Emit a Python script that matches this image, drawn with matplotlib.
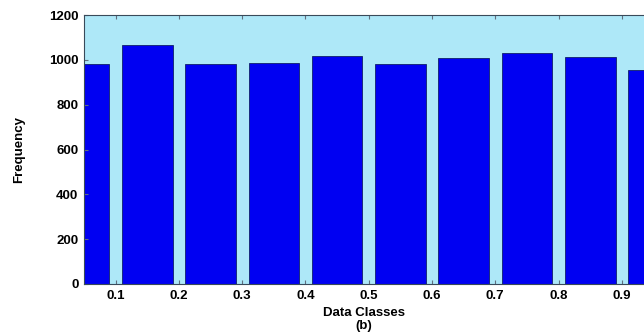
import matplotlib
matplotlib.use("Agg")
import matplotlib.pyplot as plt

centers = [0.05, 0.15, 0.25, 0.35, 0.45, 0.55, 0.65, 0.75, 0.85, 0.95]
freqs = [980, 1065, 982, 987, 1018, 983, 1007, 1029, 1013, 955]
xticks = [0.1, 0.2, 0.3, 0.4, 0.5, 0.6, 0.7, 0.8, 0.9]
xticklabels = ["0.1", "0.2", "0.3", "0.4", "0.5", "0.6", "0.7", "0.8", "0.9"]
yticks = [0, 200, 400, 600, 800, 1000, 1200]

plt.rcParams['font.family'] = ['Liberation Sans', 'DejaVu Sans']
fig = plt.figure(figsize=(6.44, 3.35), dpi=100)
ax = fig.add_axes([84/644, 51/335, 1 - 84/644, (284-15)/335])
ax.set_facecolor('#aee8f8')
ax.bar(centers, freqs, width=0.08, color='#0000f2', edgecolor='#10206a', linewidth=0.6)
ax.set_xlim(0.05, 0.935)
ax.set_ylim(0, 1200)
ax.set_xticks(xticks)
ax.set_xticklabels(xticklabels, fontsize=9.5, fontweight='bold')
ax.set_yticks(yticks)
ax.set_yticklabels([str(v) for v in yticks], fontsize=9.5, fontweight='bold')
ax.tick_params(direction='in', length=3, color='#607080', top=True, right=False, pad=4)
for s in ax.spines.values():
    s.set_color('#3a4a5a')
    s.set_linewidth(0.8)
ax.spines['right'].set_visible(False)
ax.set_xlabel("Data Classes\n(b)", fontsize=9.5, fontweight='bold', labelpad=4, linespacing=1.05)
ax.set_ylabel("Frequency", fontsize=9.5, fontweight='bold', labelpad=17)
fig.savefig("out.png", dpi=100)
